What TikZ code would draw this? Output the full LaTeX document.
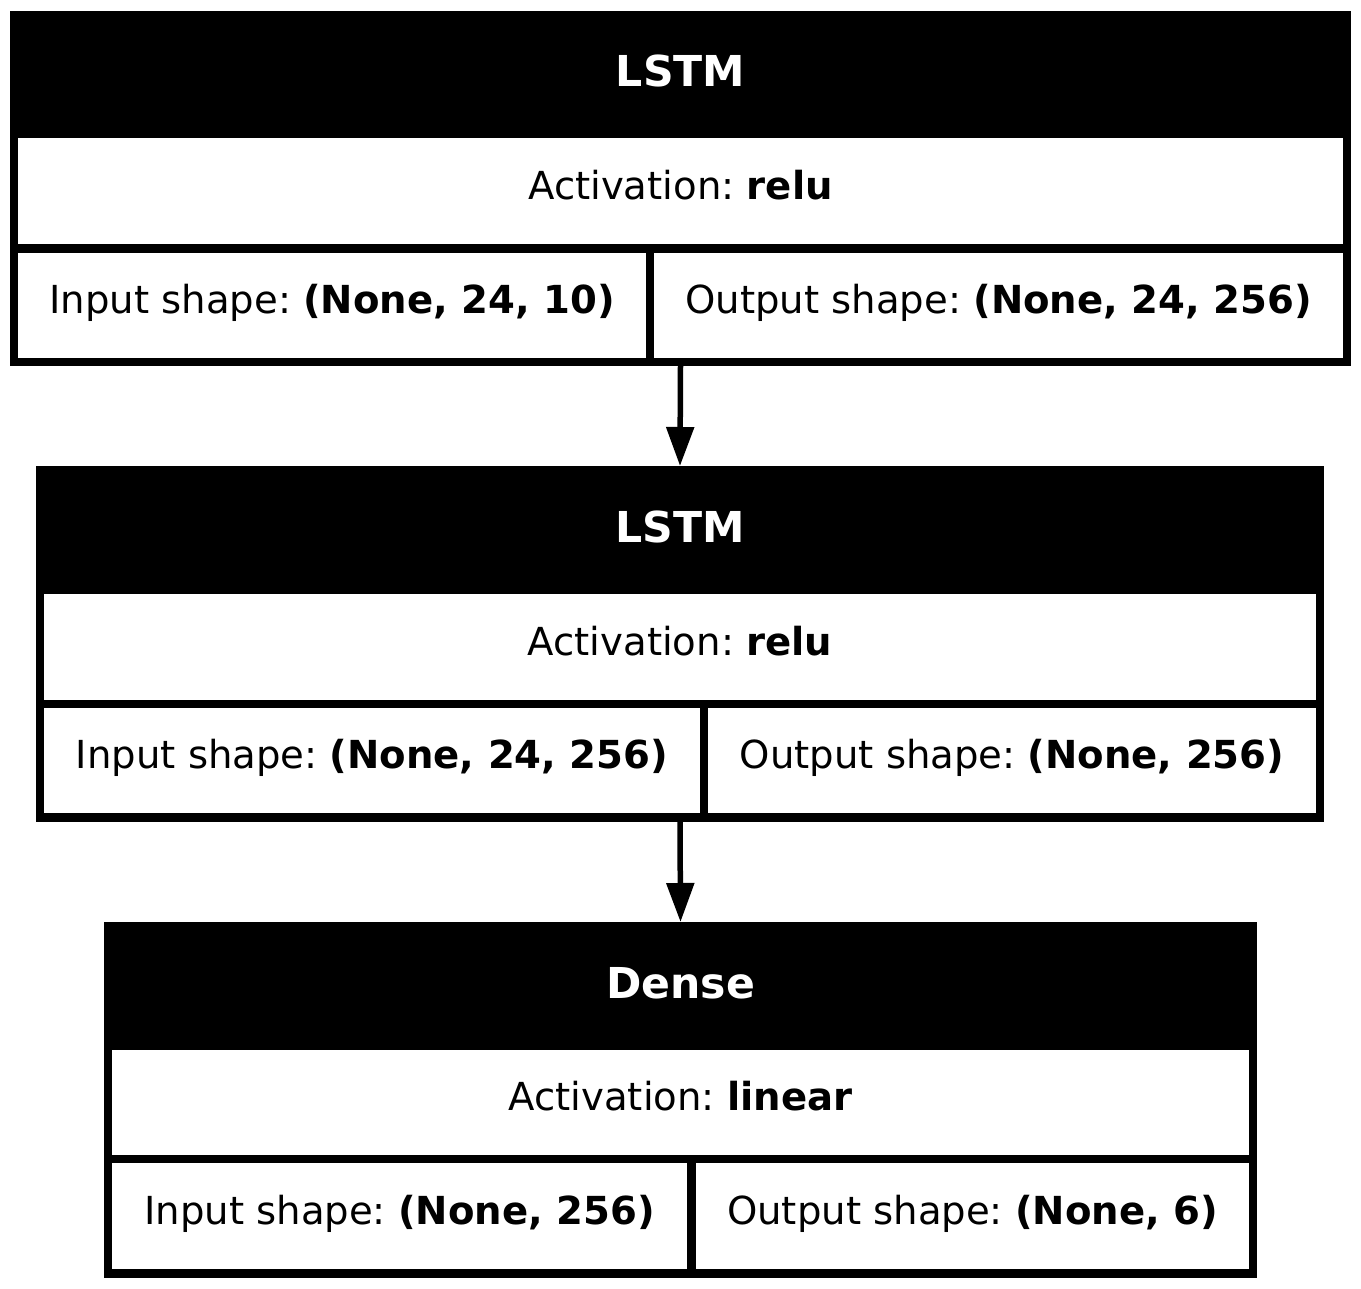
\documentclass[tikz,border=0pt]{standalone}
\usepackage{fontspec}
\setmainfont{DejaVu Sans}
\usetikzlibrary{arrows.meta}
\frenchspacing

% one rectangular cell given by its corners (x1,y1)-(x2,y2), in pixel units
\newcommand\layercell[7]{%
  \pgfmathsetmacro\cellx{(#3+#5)/2}%
  \pgfmathsetmacro\celly{(#4+#6)/2}%
  \pgfmathsetmacro\cellw{(#5-#3)*0.5}%
  \pgfmathsetmacro\cellh{(#6-#4)*0.5}%
  \node[#1, minimum width=\cellw pt, minimum height=\cellh pt] (#2) at (\cellx,\celly) {#7};%
}

\begin{document}
\begin{tikzpicture}[x=0.5pt, y=-0.5pt,
  frame/.style={fill=black, draw=none, inner sep=0pt, outer sep=0pt},
  header/.style={fill=black, draw=none, inner sep=0pt, outer sep=0pt,
    text=white, font=\fontsize{21.3pt}{24pt}\selectfont\bfseries\frenchspacing,
    text height=0.80em, text depth=0em},
  body/.style={fill=white, draw=none, inner sep=0pt, outer sep=0pt,
    font=\fontsize{19.3pt}{22pt}\selectfont\frenchspacing,
    text height=0.86em, text depth=0.04em},
  link/.style={line width=2.75pt, -{Triangle[width=13.5pt, length=19.5pt]}}]

\useasboundingbox (0,0) rectangle (1361,1289);

% first LSTM layer
\layercell{frame}{l1}{10}{11}{1351}{366}{}
\layercell{header}{l1h}{18}{19}{1343}{138}{LSTM}
\layercell{body}{l1a}{18}{138}{1343}{244}{Activation: \textbf{relu}}
\layercell{body}{l1i}{18}{253}{646}{358}{Input shape: \textbf{(None, 24, 10)}}
\layercell{body}{l1o}{654}{253}{1343}{358}{Output shape: \textbf{(None, 24, 256)}}

% second LSTM layer
\layercell{frame}{l2}{36}{466}{1324}{822}{}
\layercell{header}{l2h}{44}{474}{1316}{594}{LSTM}
\layercell{body}{l2a}{44}{594}{1316}{700}{Activation: \textbf{relu}}
\layercell{body}{l2i}{44}{708}{700}{813}{Input shape: \textbf{(None, 24, 256)}}
\layercell{body}{l2o}{708}{708}{1316}{813}{Output shape: \textbf{(None, 256)}}

% dense output layer
\layercell{frame}{l3}{104}{922}{1257}{1278}{}
\layercell{header}{l3h}{112}{930}{1249}{1050}{Dense}
\layercell{body}{l3a}{112}{1050}{1249}{1155}{Activation: \textbf{linear}}
\layercell{body}{l3i}{112}{1163}{687}{1269}{Input shape: \textbf{(None, 256)}}
\layercell{body}{l3o}{696}{1163}{1249}{1269}{Output shape: \textbf{(None, 6)}}

% data flow between layers
\draw[link] (l1.south) -- (l2.north);
\draw[link] (l2.south) -- (l3.north);

\end{tikzpicture}
\end{document}
